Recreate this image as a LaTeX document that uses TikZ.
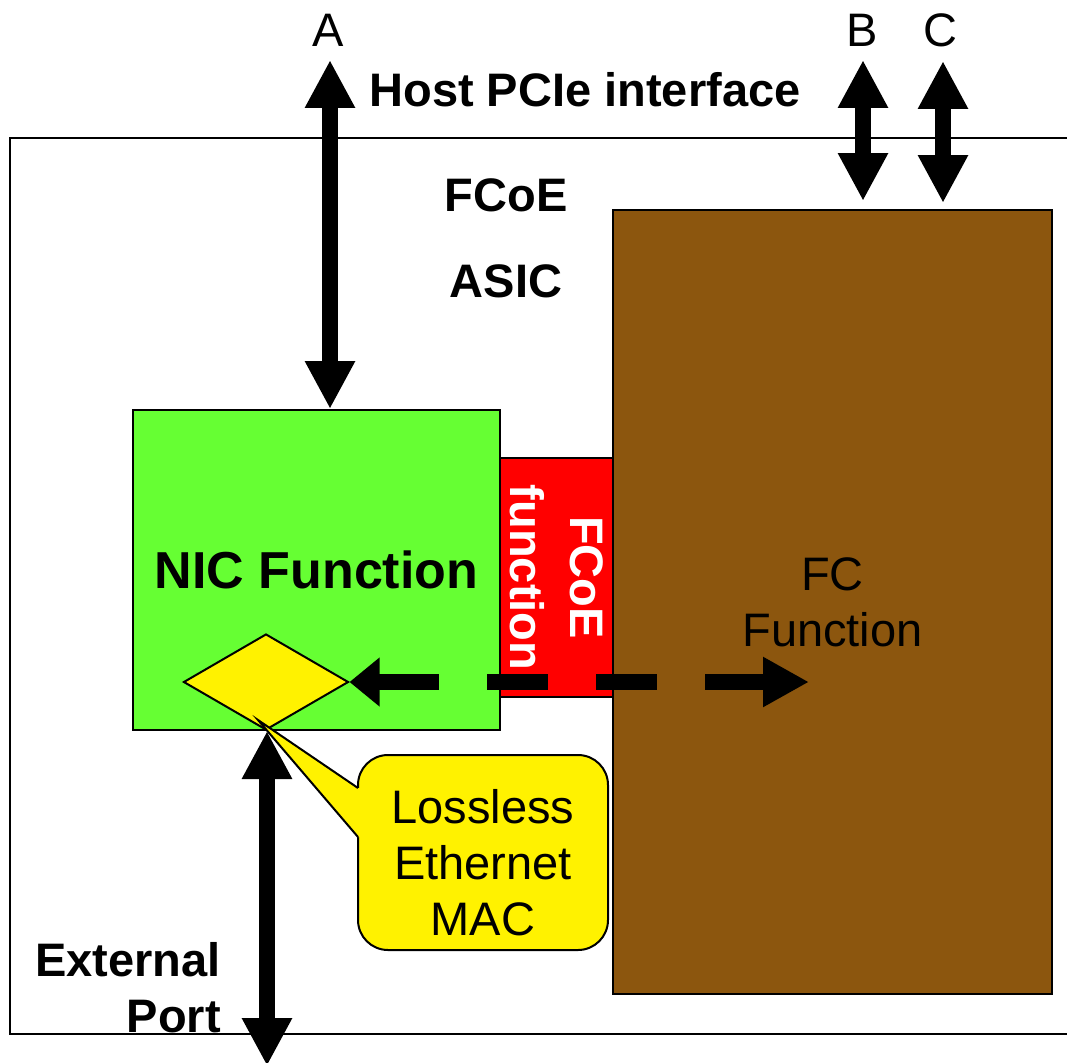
\documentclass[tikz,border=0pt]{standalone}
\usepackage{fontspec}
\setmainfont{Liberation Sans}
\usetikzlibrary{calc}
\usetikzlibrary{arrows.meta}
\usetikzlibrary{shapes.geometric,positioning}
\definecolor{nicgreen}{RGB}{102,255,51}
\definecolor{fcbrown}{RGB}{140,86,14}
\tikzset{
    bigarrow/.style={
        line width=16pt,
        black,
        {Triangle[length=48pt, width=47pt]}-{Triangle[length=48pt, width=47pt]}
    },
    % dashed path between FC and the MAC
    dasharrow/.style={
        line width=16pt,
        black,
        dash pattern=on 61pt off 48pt,
        {Triangle[length=46pt, width=47pt]}-{Triangle[length=30pt, width=47pt]}
    },
    blockbox/.style={
        draw=black,
        line width=2pt,
        inner sep=0pt,
        align=center,
        font=\fontsize{47}{56}\selectfont
    },
    boldlabel/.style={
        inner sep=0pt,
        align=center,
        font=\fontsize{47}{56}\selectfont\bfseries
    },
    plainlabel/.style={
        inner sep=0pt,
        font=\fontsize{47}{56}\selectfont
    }
}

\begin{document}
\begin{tikzpicture}[x=1pt,y=-1pt]
    \useasboundingbox (0,0) rectangle (1067,1062);
    \draw[line width=2pt] (10,138) rectangle (1090,1034);

    \node[blockbox,fill=fcbrown,minimum width=439pt,minimum height=784pt] (fc) at (832.5,602) {FC\\Function};
    \node[blockbox,fill=nicgreen,minimum width=367pt,minimum height=320pt,
          font=\fontsize{52}{60}\selectfont\bfseries] (nic) at (316.5,570) {NIC Function};
    \node[blockbox,fill=red,rotate=-90,minimum width=239pt,minimum height=113pt,
          text=white,font=\fontsize{47}{60}\selectfont\bfseries] (fcoe) at (556.5,577.5) {FCoE\\function};
    \node[diamond,draw=black,line width=2pt,fill=yellow,inner sep=0pt,
          minimum width=165pt,minimum height=96pt] (mac) at (266,682) {};

    \node[boldlabel] (host) at (585,90) {Host PCIe interface};
    \node[boldlabel,font=\fontsize{47}{86}\selectfont\bfseries] (asic) at (506,238) {FCoE\\ASIC};
    \node[boldlabel,align=right,anchor=east] (ext) at (221,988) {External\\Port};

    \node[plainlabel] (labA) at (328,30) {A};
    \node[plainlabel] (labB) at (862,30) {B};
    \node[plainlabel] (labC) at (940,30) {C};

    \coordinate (hostA) at (330,60);
    \coordinate (hostB) at (863,60);
    \coordinate (hostC) at (943,61);
    \coordinate (port) at (267,1066);
    \coordinate (fcend) at (809,682);

    \draw[bigarrow] (hostA) -- (hostA |- nic.north);
    \draw[bigarrow,shorten >=8pt] (hostB) -- (hostB |- fc.north);
    \draw[bigarrow,shorten >=6pt] (hostC) -- (hostC |- fc.north);
    \draw[bigarrow] (port |- nic.south) -- (port);
    \draw[dasharrow] (fcend) -- (mac.east);

    % callout
    \node[blockbox,fill=yellow,rounded corners=30pt,minimum width=250pt,minimum height=195pt,
          text height=165pt,text depth=0pt] (callout) at (483,852.5) {Lossless\\Ethernet\\MAC};
    \coordinate (tip) at (258,720);
    \coordinate (pin1) at (358,788);
    \coordinate (pin2) at (358,837);
    \fill[yellow] (tip) -- (pin1) -- ++(3,0) -- ($(pin2)+(3,0)$) -- (pin2) -- cycle;
    \draw[line width=2pt] (pin1) -- (tip) -- (pin2);
\end{tikzpicture}
\end{document}
